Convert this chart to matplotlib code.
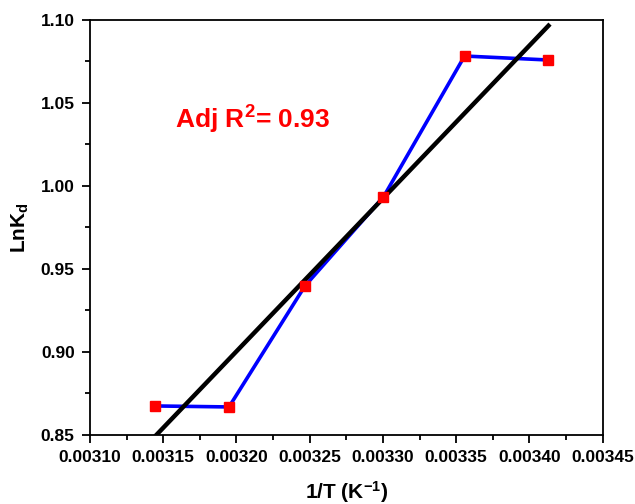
import numpy as np
import matplotlib.pyplot as plt
from matplotlib.ticker import MultipleLocator, FormatStrFormatter

# données
inv_T = [1 / 318, 1 / 313, 1 / 308, 1 / 303, 1 / 298, 1 / 293]
ln_kd = [0.8675, 0.8669, 0.9398, 0.9934, 1.0783, 1.0759]
adj_r2 = 0.93

plt.rcParams['font.family'] = ['Liberation Sans', 'DejaVu Sans']
plt.rcParams['font.weight'] = 'bold'
plt.rcParams['mathtext.fontset'] = 'custom'
plt.rcParams['mathtext.bf'] = 'Liberation Sans:bold'
plt.rcParams['mathtext.rm'] = 'Liberation Sans:bold'
plt.rcParams['mathtext.default'] = 'bf'

fig = plt.figure(figsize=(6.35, 5.04), dpi=100)
ax = fig.add_axes([90 / 635, 1 - 435 / 504, 512.7 / 635, 415 / 504])

# régression linéaire
slope, intercept = np.polyfit(inv_T, ln_kd, 1)
x_fit = np.array([min(inv_T), max(inv_T)])
ax.plot(x_fit, slope * x_fit + intercept, color='black', lw=3.2, zorder=3)

ax.plot(inv_T, ln_kd, color='blue', lw=2.6, zorder=2)
ax.plot(inv_T, ln_kd, 's', color='red', ms=7, zorder=4, linestyle='none')

ax.set_xlim(0.00310, 0.00345)
ax.set_ylim(0.85, 1.10)
ax.xaxis.set_major_locator(MultipleLocator(0.00005))
ax.xaxis.set_minor_locator(MultipleLocator(0.000025))
ax.yaxis.set_major_locator(MultipleLocator(0.05))
ax.yaxis.set_minor_locator(MultipleLocator(0.025))
ax.xaxis.set_major_formatter(FormatStrFormatter('%.5f'))
ax.yaxis.set_major_formatter(FormatStrFormatter('%.2f'))
ax.tick_params(which='major', direction='out', length=6, width=1.3, labelsize=12.5, pad=5)
ax.tick_params(which='minor', direction='out', length=3.5, width=1.3)
for sp in ax.spines.values():
    sp.set_linewidth(1.3)

ax.set_xlabel('1/T (K$^{-1}$)', fontsize=15, fontweight='bold', labelpad=10)
ax.set_ylabel('LnK$_{d}$', fontsize=15, fontweight='bold', labelpad=7)
ax.text(0.003158, 1.040, f'Adj R$^{{2}}$= {adj_r2:.2f}', color='red',
        fontsize=19, fontweight='bold', va='center')

fig.savefig('out.png', dpi=100)
